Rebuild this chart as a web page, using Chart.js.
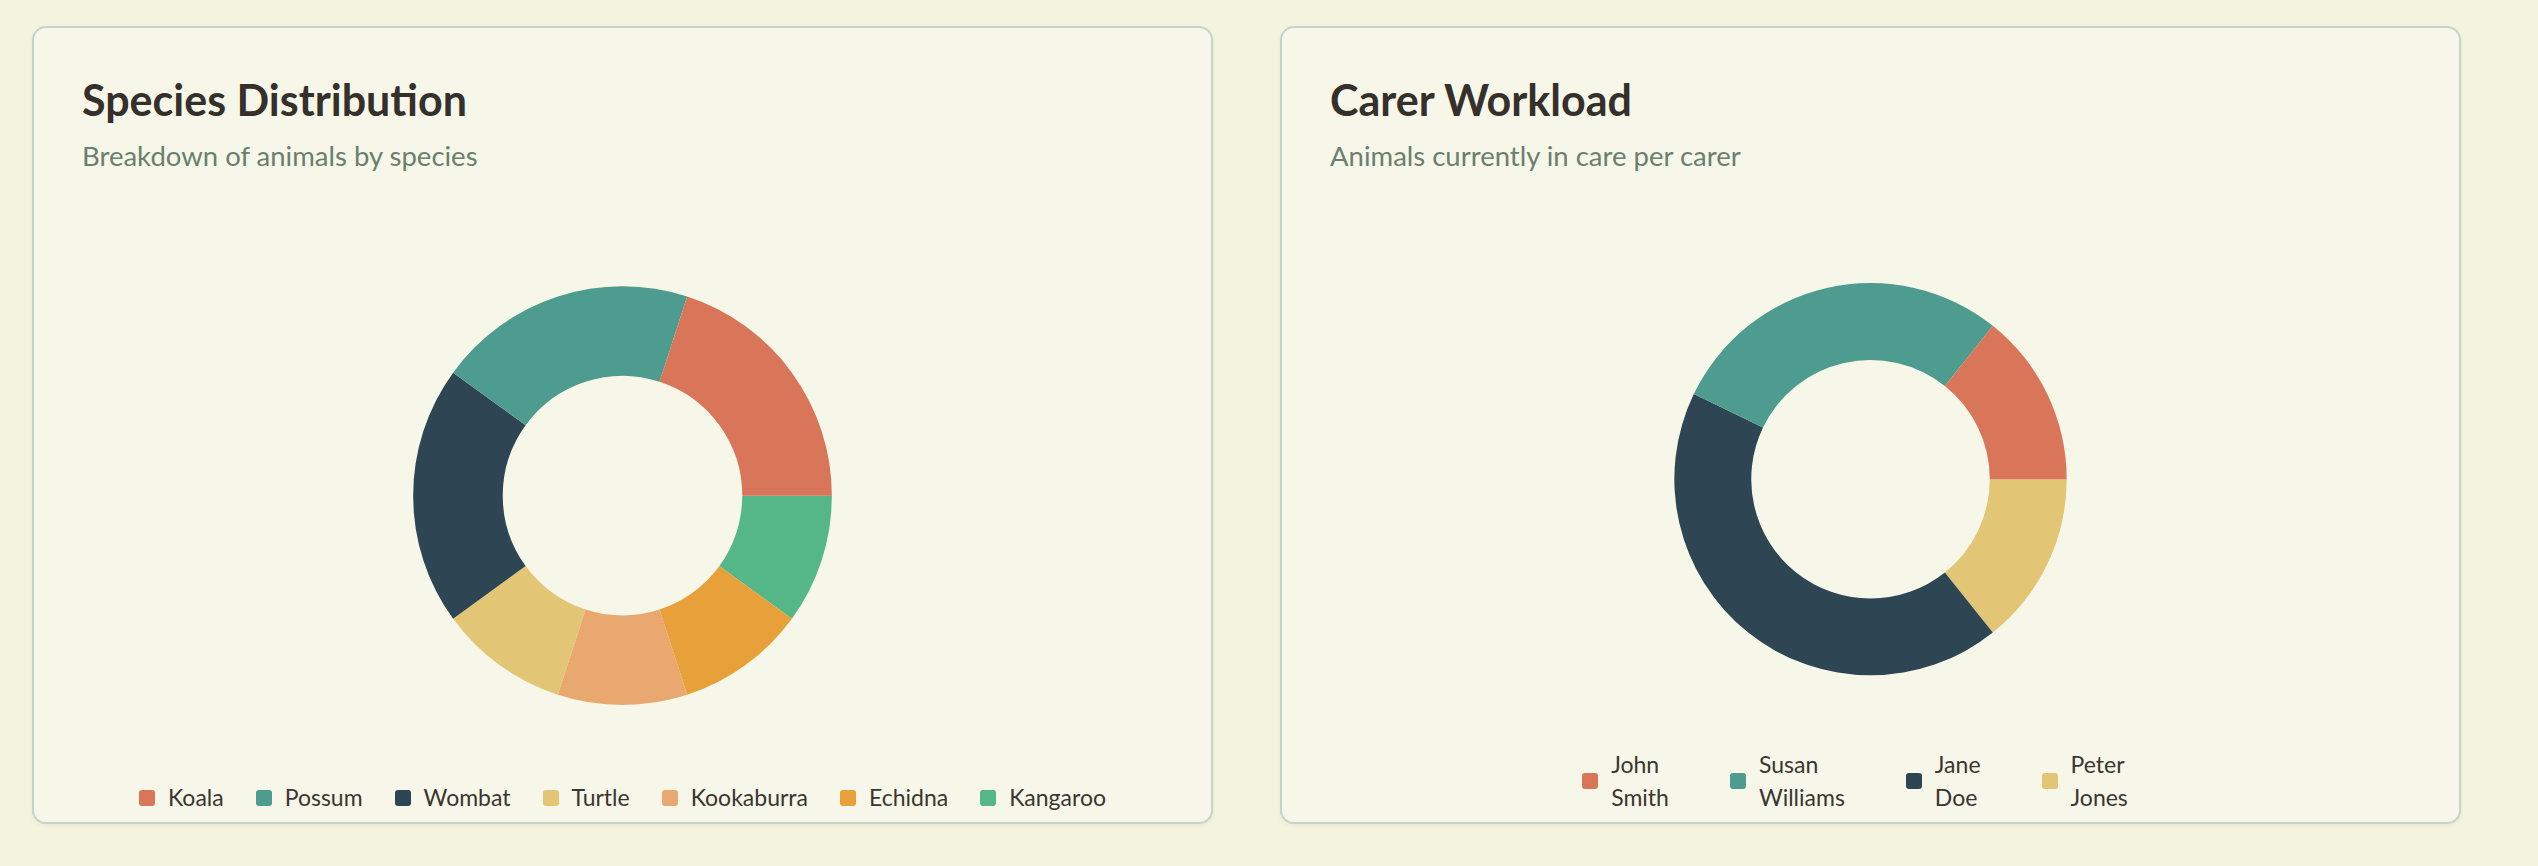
<!DOCTYPE html>
<html lang="en">
<head>
<meta charset="utf-8">
<title>Wildlife Care Dashboard</title>
<script src="https://cdn.jsdelivr.net/npm/chart.js@4.4.1/dist/chart.umd.min.js"></script>
<style>
    html, body { margin: 0; padding: 0; }
    body {
        background: #f4f4de;
        width: 2538px;
        height: 866px;
        position: relative;
        overflow: hidden;
        font-family: Lato, "Noto Sans", sans-serif;
    }
    .card {
        position: absolute;
        top: 26px;
        width: 1181px;
        height: 798px;
        box-sizing: border-box;
        background: #f6f7e8;
        border: 2px solid #c6d3cb;
        border-radius: 14px;
        box-shadow: 0 2px 4px rgba(0, 0, 0, 0.05);
        padding: 46px 48px 8px;
        display: flex;
        flex-direction: column;
    }
    #speciesCard { left: 32px; }
    #carerCard { left: 1280px; }
    .card h2 {
        margin: 0;
        font-size: 43px;
        line-height: 1.2;
        font-weight: 700;
        color: #35302b;
    }
    .card .sub {
        margin: 13px 0 0;
        font-size: 27.5px;
        line-height: 1.2;
        color: #6b7f6e;
    }
    .chart-wrap {
        position: relative;
        flex: 1;
        min-height: 0;
        margin-top: 62px;
    }
    .legend {
        display: flex;
        justify-content: center;
        align-items: center;
        list-style: none;
        margin: 24px 0 0;
        padding: 0;
        font-size: 23px;
        line-height: 33px;
        color: #3a3631;
    }
    .legend li { display: flex; align-items: center; margin: 0 16px; }
    .legend.wide li { margin: 0 46px 0 15px; }
    .legend .box { width: 16px; height: 16px; border-radius: 3px; margin-right: 13px; flex: none; }
    .legend .txt { width: min-content; }
</style>
</head>
<body>

<div class="card" id="speciesCard">
    <h2>Species Distribution</h2>
    <p class="sub">Breakdown of animals by species</p>
    <div class="chart-wrap"><canvas id="speciesChart"></canvas></div>
    <ul class="legend" id="speciesLegend"></ul>
</div>

<div class="card" id="carerCard">
    <h2>Carer Workload</h2>
    <p class="sub">Animals currently in care per carer</p>
    <div class="chart-wrap"><canvas id="carerChart"></canvas></div>
    <ul class="legend wide" id="carerLegend"></ul>
</div>

<script>
// Species data
const species = ['Koala', 'Possum', 'Wombat', 'Turtle', 'Kookaburra', 'Echidna', 'Kangaroo'];
const speciesCounts = [2, 2, 2, 1, 1, 1, 1];
const speciesColors = ['#d97659', '#4e9b8f', '#2e4653', '#e2c575', '#e8a870', '#e8a13a', '#55b787'];

// Carer data
const carers = ['John Smith', 'Susan Williams', 'Jane Doe', 'Peter Jones'];
const carerCounts = [1, 2, 3, 1];
const carerColors = ['#d97659', '#4e9b8f', '#2e4653', '#e2c575'];

// Slices run anticlockwise from 3 o'clock, so feed the data reversed
// and start the ring at 90 degrees
function buildDoughnut(canvasId, legendId, labels, values, colors, cutout) {
    var ctx = document.getElementById(canvasId).getContext('2d');
    var chart = new Chart(ctx, {
        type: 'doughnut',
        data: {
            labels: labels.slice().reverse(),
            datasets: [{
                data: values.slice().reverse(),
                backgroundColor: colors.slice().reverse(),
                borderWidth: 0,
                hoverOffset: 0
            }]
        },
        options: {
            responsive: true,
            maintainAspectRatio: false,
            animation: false,
            rotation: 90,
            radius: '80%',
            cutout: cutout,
            layout: { padding: 0 },
            plugins: {
                legend: { display: false }
            }
        }
    });

    // HTML legend from the chart's own legend items
    var items = chart.options.plugins.legend.labels.generateLabels(chart).reverse();
    var ul = document.getElementById(legendId);
    items.forEach(function (item) {
        var li = document.createElement('li');
        var box = document.createElement('span');
        box.className = 'box';
        box.style.background = item.fillStyle;
        var txt = document.createElement('span');
        txt.className = 'txt';
        txt.textContent = item.text;
        li.appendChild(box);
        li.appendChild(txt);
        ul.appendChild(li);
    });
    return chart;
}

buildDoughnut('speciesChart', 'speciesLegend', species, speciesCounts, speciesColors, '57.2%');
buildDoughnut('carerChart', 'carerLegend', carers, carerCounts, carerColors, '60.8%');
</script>
</body>
</html>
